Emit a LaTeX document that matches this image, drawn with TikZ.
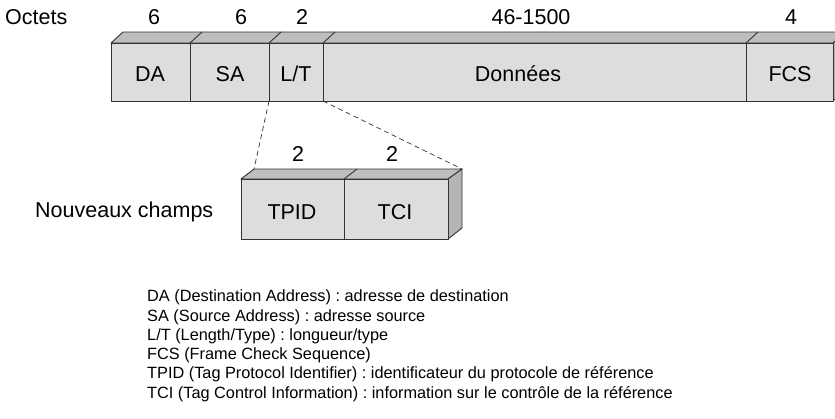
\documentclass[tikz,border=0pt]{standalone}
\usepackage{fontspec}
\setmainfont{Liberation Sans}
\frenchspacing
\definecolor{frontgray}{HTML}{DCDDDF}
\definecolor{topgray}{HTML}{BDBEC0}
\definecolor{sidegray}{HTML}{B4B5B7}
\definecolor{edge}{HTML}{333333}
\begin{document}
\begin{tikzpicture}[x=1pt,y=-1pt,
  face/.style={draw=edge,line width=0.9pt,line join=round},
  frontface/.style={face,fill=frontgray},
  topface/.style={face,fill=topgray},
  sideface/.style={face,fill=sidegray},
  lbl/.style={font=\fontsize{21.5}{21.5}\selectfont,inner sep=0pt,anchor=base},
  legend/.style={font=\fontsize{16.3}{19.25}\selectfont,inner sep=0pt,anchor=base west,align=left},
  link/.style={draw=edge,line width=0.7pt,dash pattern=on 5pt off 3.5pt}]
\useasboundingbox (0,0) rectangle (835,418);
% ---- top frame ----
\fill[topgray] (111,43) -- (123,32) -- (847,32) -- (835,43) -- cycle;
\draw[sideface] (833,43) -- (845,32) -- (845,90) -- (833,101) -- cycle;
\draw[topface] (111,43) -- (123,32) -- (845,32) -- (833,43) -- cycle;
\draw[frontface] (111,43) rectangle (833,101);
\foreach \x in {190,269,323,746} {
  \draw[face] (\x,43) -- (\x,101);
  \draw[face] (\x,43) -- (\x+12,32);
}
\coordinate (lt-bl) at (269,101);
\coordinate (lt-br) at (323,101);
% ---- new fields ----
\draw[topface] (241,179) -- (254,169) -- (462,169) -- (448,179) -- cycle;
\draw[sideface] (448,179) -- (462,169) -- (462,228) -- (448,239) -- cycle;
\draw[frontface] (241,179) rectangle (448,239);
\draw[face] (344,179) -- (344,239);
\draw[face] (344,179) -- (357,169);
\coordinate (nf-bl) at (254,169);
\coordinate (nf-br) at (462,169);
\draw[link] (lt-bl) -- (nf-bl);
\draw[link] (lt-br) -- (nf-br);
% ---- labels ----
\node[lbl,anchor=base west] (octets) at (5,24) {Octets};
\node[lbl] (n-da) at (154,24) {6};
\node[lbl] (n-sa) at (241,24) {6};
\node[lbl] (n-lt) at (302,24) {2};
\node[lbl] (n-data) at (531,24) {46-1500};
\node[lbl] (n-fcs) at (791,24) {4};
\node[lbl] (da) at (150,81) {DA};
\node[lbl] (sa) at (230,81) {SA};
\node[lbl] (lt) at (296,81) {L/T};
\node[lbl] (data) at (518,81) {Données};
\node[lbl] (fcs) at (790,81) {FCS};
\node[lbl] (n-tpid) at (298,161) {2};
\node[lbl] (n-tci) at (392,161) {2};
\node[lbl] (tpid) at (292,219) {TPID};
\node[lbl] (tci) at (395,219) {TCI};
\node[lbl,anchor=base west] (nouveaux) at (35,217) {Nouveaux champs};
\node[legend] (leg) at (147,398) {DA (Destination Address) : adresse de destination\\
SA (Source Address) : adresse source\\
L/T (Length/Type) : longueur/type\\
FCS (Frame Check Sequence)\\
TPID (Tag Protocol Identifier) : identificateur du protocole de référence\\
TCI (Tag Control Information) : information sur le contrôle de la référence};
\end{tikzpicture}
\end{document}
